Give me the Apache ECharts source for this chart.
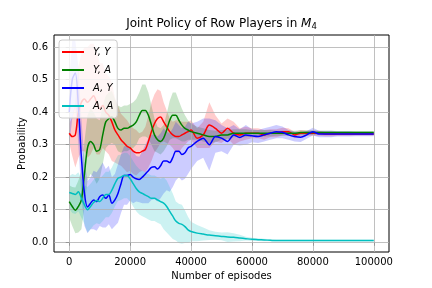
<!DOCTYPE html>
<html>
<head>
<meta charset="utf-8">
<script src="https://cdn.jsdelivr.net/npm/echarts@6/dist/echarts.min.js"></script>
<style>html,body{margin:0;padding:0;background:#fff}#c{width:432px;height:288px}</style>
</head>
<body>
<div id="c"></div>
<script>
const episodes = [0,1000,2000,3000,4000,5000,6000,7000,8000,9000,10000,11000,12000,13000,14000,15000,16000,17000,18000,19000,20000,21000,22000,23000,24000,25000,26000,27000,28000,29000,30000,31000,32000,33000,34000,35000,36000,37000,38000,39000,40000,
42000,44000,46000,48000,50000,52000,54000,56000,58000,60000,62000,64000,66000,68000,70000,72000,74000,76000,78000,80000,82000,84000,86000,88000,90000,92000,94000,96000,98000,100000];

const seriesNames = ['Y, Y', 'Y, A', 'A, Y', 'A, A'];

const meanYY = [0.335,0.325,0.33,0.40,0.43,0.44,0.43,0.44,0.45,0.43,0.41,0.42,0.40,0.39,0.37,0.345,0.33,0.315,0.305,0.295,0.29,0.28,0.275,0.275,0.28,0.285,0.31,0.34,0.365,0.38,0.385,0.37,0.355,0.34,0.33,0.325,0.325,0.33,0.335,0.34,0.345,
0.32,0.33,0.36,0.35,0.335,0.35,0.335,0.33,0.335,0.335,0.335,0.33,0.335,0.335,0.34,0.34,0.33,0.335,0.335,0.335,0.335,0.333,0.333,0.333,0.333,0.333,0.333,0.333,0.333,0.333];
const meanYA = [0.125,0.11,0.098,0.11,0.13,0.21,0.29,0.31,0.30,0.28,0.285,0.33,0.37,0.38,0.385,0.37,0.35,0.345,0.35,0.35,0.355,0.36,0.37,0.39,0.405,0.405,0.39,0.36,0.33,0.315,0.31,0.32,0.345,0.375,0.39,0.39,0.375,0.36,0.35,0.345,0.34,
0.335,0.33,0.325,0.325,0.33,0.33,0.335,0.335,0.335,0.335,0.335,0.335,0.335,0.335,0.335,0.335,0.335,0.337,0.337,0.337,0.337,0.337,0.337,0.337,0.337,0.337,0.337,0.337,0.337,0.337];
const meanAY = [0.40,0.50,0.52,0.42,0.26,0.15,0.108,0.12,0.13,0.125,0.14,0.145,0.135,0.145,0.12,0.13,0.15,0.18,0.205,0.205,0.208,0.20,0.195,0.193,0.20,0.21,0.22,0.23,0.232,0.225,0.235,0.25,0.25,0.245,0.26,0.28,0.28,0.27,0.275,0.29,0.295,
0.31,0.32,0.30,0.325,0.32,0.31,0.33,0.322,0.33,0.327,0.325,0.33,0.335,0.34,0.338,0.33,0.325,0.323,0.33,0.34,0.333,0.333,0.333,0.333,0.333,0.333,0.333,0.333,0.333,0.333];
const meanAA = [0.153,0.15,0.147,0.155,0.135,0.115,0.10,0.11,0.122,0.128,0.125,0.135,0.147,0.147,0.16,0.18,0.197,0.20,0.205,0.205,0.195,0.18,0.165,0.155,0.15,0.145,0.14,0.135,0.135,0.13,0.125,0.12,0.11,0.095,0.08,0.065,0.058,0.055,0.048,0.038,0.033,
0.028,0.025,0.022,0.02,0.018,0.016,0.015,0.013,0.011,0.009,0.008,0.007,0.006,0.005,0.005,0.005,0.005,0.005,0.005,0.005,0.005,0.005,0.005,0.005,0.005,0.005,0.005,0.005,0.005,0.005];

const spreadYY = [0.03,0.06,0.1,0.14,0.15,0.16,0.17,0.17,0.16,0.16,0.14,0.13,0.12,0.12,0.12,0.1,0.09,0.08,0.08,0.08,0.07,0.07,0.07,0.06,0.06,0.07,0.08,0.09,0.09,0.09,0.08,0.06,0.05,0.04,0.04,0.05,0.05,0.04,0.035,0.03,0.03,
0.03,0.04,0.07,0.04,0.03,0.03,0.035,0.02,0.02,0.015,0.015,0.015,0.012,0.012,0.012,0.01,0.01,0.01,0.008,0.008,0.008,0.007,0.007,0.006,0.006,0.006,0.005,0.005,0.005,0.005];
const spreadYA = [0.05,0.06,0.07,0.08,0.09,0.1,0.1,0.1,0.1,0.1,0.09,0.09,0.08,0.08,0.08,0.07,0.07,0.07,0.07,0.07,0.07,0.07,0.07,0.07,0.08,0.08,0.07,0.06,0.05,0.04,0.04,0.04,0.05,0.06,0.07,0.07,0.06,0.05,0.04,0.03,0.025,
0.02,0.02,0.02,0.018,0.015,0.015,0.012,0.012,0.012,0.01,0.01,0.01,0.01,0.008,0.008,0.008,0.008,0.007,0.007,0.007,0.006,0.006,0.006,0.005,0.005,0.005,0.005,0.005,0.005,0.005];
const spreadAY = [0.1,0.12,0.1,0.12,0.12,0.1,0.08,0.08,0.09,0.09,0.09,0.1,0.09,0.09,0.08,0.08,0.09,0.09,0.09,0.09,0.08,0.08,0.07,0.07,0.08,0.09,0.1,0.1,0.1,0.1,0.1,0.1,0.09,0.09,0.09,0.09,0.08,0.08,0.08,0.08,0.07,
0.06,0.06,0.08,0.05,0.04,0.04,0.03,0.025,0.03,0.02,0.02,0.02,0.02,0.02,0.018,0.015,0.015,0.015,0.012,0.012,0.01,0.01,0.01,0.008,0.008,0.008,0.007,0.007,0.007,0.007];
const spreadAA = [0.05,0.06,0.06,0.06,0.06,0.06,0.07,0.07,0.07,0.07,0.07,0.07,0.07,0.07,0.07,0.07,0.07,0.07,0.07,0.07,0.07,0.07,0.07,0.07,0.07,0.07,0.07,0.07,0.07,0.07,0.07,0.08,0.08,0.075,0.07,0.06,0.06,0.06,0.05,0.04,0.03,
0.025,0.02,0.015,0.012,0.012,0.015,0.013,0.01,0.006,0.005,0.004,0.004,0.003,0.003,0.003,0.003,0.003,0.003,0.003,0.003,0.003,0.003,0.003,0.003,0.003,0.003,0.003,0.003,0.003,0.003];

const xTicks = [0, 20000, 40000, 60000, 80000, 100000];
const yTicks = [0.0, 0.1, 0.2, 0.3, 0.4, 0.5, 0.6];

const colors = ['#ff0000', '#008000', '#0000ff', '#00bfbf'];
const means = [meanYY, meanYA, meanAY, meanAA];
const spreads = [spreadYY, spreadYA, spreadAY, spreadAA];

const FONT = 'DejaVu Sans';
const SM = 0.3;
const series = [];

// shaded bands (mean ± spread) drawn as one polygon each, positioned by the cartesian scales
means.forEach((m, k) => {
  const sp = spreads[k];
  series.push({
    type: 'custom', silent: true, z: 1, clip: true,
    data: [[episodes[0], m[0]]],
    encode: { x: 0, y: 1 },
    renderItem: function (params, api) {
      const upper = episodes.map((x, i) => api.coord([x, m[i] + sp[i]]));
      const lower = episodes.map((x, i) => api.coord([x, m[i] - sp[i]])).reverse();
      return {
        type: 'polygon',
        shape: { points: upper.concat(lower), smooth: 0 },
        style: { fill: colors[k], opacity: 0.2 }
      };
    }
  });
});

// grid lines
series.push({
  type: 'line', silent: true, symbol: 'none', z: 2, data: [],
  markLine: {
    silent: true, symbol: ['none', 'none'], z: 2, animation: false,
    label: { show: false },
    lineStyle: { color: '#b0b0b0', width: 0.8, type: 'solid' },
    data: xTicks.map(v => ({ xAxis: v })).concat(yTicks.map(v => ({ yAxis: v })))
  }
});

// mean lines
means.forEach((m, k) => {
  series.push({
    name: seriesNames[k], type: 'line', symbol: 'none', smooth: SM, z: 3,
    color: colors[k],
    lineStyle: { color: colors[k], width: 1.5 },
    data: episodes.map((x, i) => [x, m[i]])
  });
});

const chart = echarts.init(document.getElementById('c'), null, { renderer: 'canvas' });
chart.setOption({
  animation: false,
  backgroundColor: '#fff',
  grid: { left: 54, right: 43, top: 35, bottom: 36, show: true, borderColor: '#000', borderWidth: 1, backgroundColor: 'transparent' },
  xAxis: {
    type: 'value', min: -5000, max: 105000,
    axisLine: { show: false },
    splitLine: { show: false },
    axisTick: { show: true, length: 3.5, lineStyle: { color: '#000', width: 0.8 }, customValues: xTicks },
    axisLabel: { customValues: xTicks, color: '#000', fontFamily: FONT, fontSize: 10, margin: 5, formatter: v => String(v) }
  },
  yAxis: {
    type: 'value', min: -0.03, max: 0.637,
    axisLine: { show: false },
    splitLine: { show: false },
    axisTick: { show: true, length: 3.5, lineStyle: { color: '#000', width: 0.8 }, customValues: yTicks },
    axisLabel: { customValues: yTicks, color: '#000', fontFamily: FONT, fontSize: 10, margin: 6, formatter: v => v.toFixed(1) }
  },
  legend: {
    data: seriesNames, orient: 'vertical', left: 59, top: 40,
    icon: 'rect', itemWidth: 22, itemHeight: 2, itemGap: 8,
    backgroundColor: 'rgba(255,255,255,0.8)', borderColor: '#cccccc', borderWidth: 1, borderRadius: 3,
    padding: [7, 4, 7, 3],
    textStyle: { fontFamily: FONT, fontSize: 10, fontStyle: 'italic', color: '#000', padding: [0, 0, 0, 4] }
  },
  graphic: [
    {
      type: 'text', x: 221.5, y: 24, z: 10,
      style: {
        text: '{a|Joint Policy of Row Players in }{m|M}{s|4}',
        align: 'center', verticalAlign: 'middle',
        rich: {
          a: { fontFamily: FONT, fontSize: 12, fill: '#000', lineHeight: 14 },
          m: { fontFamily: FONT, fontSize: 12, fontStyle: 'italic', fill: '#000', lineHeight: 14 },
          s: { fontFamily: FONT, fontSize: 8.5, fill: '#000', lineHeight: 14, verticalAlign: 'bottom', padding: [6, 0, 0, 0] }
        }
      }
    },
    {
      type: 'text', x: 221.5, y: 276, z: 10,
      style: { text: 'Number of episodes', align: 'center', verticalAlign: 'middle', fontFamily: FONT, fontSize: 10, fill: '#000' }
    },
    {
      type: 'text', x: 22, y: 143.5, rotation: Math.PI / 2, z: 10,
      style: { text: 'Probability', align: 'center', verticalAlign: 'middle', fontFamily: FONT, fontSize: 10, fill: '#000' }
    }
  ],
  series: series
});
</script>
</body>
</html>
